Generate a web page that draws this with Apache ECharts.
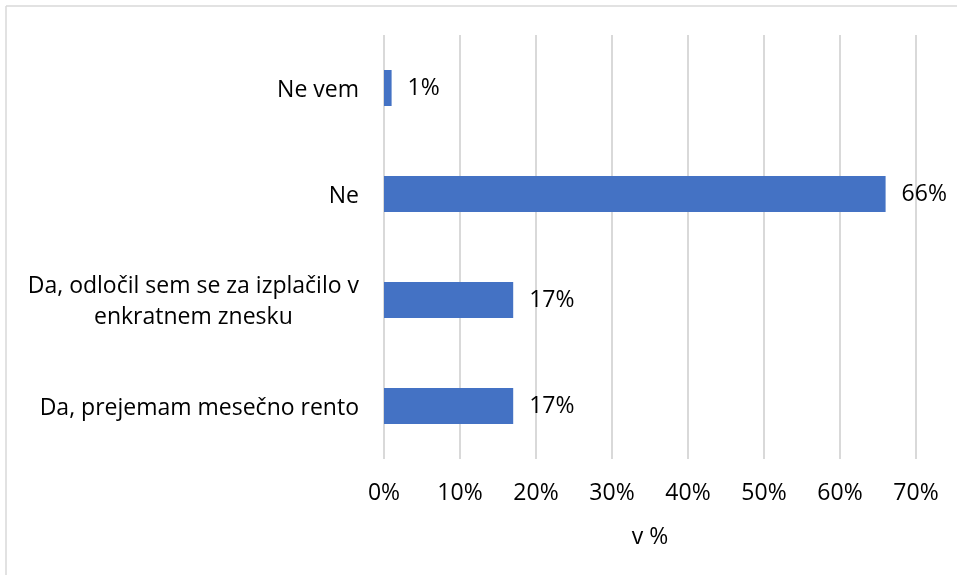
<!DOCTYPE html>
<html>
<head>
<meta charset="utf-8">
<script src="https://cdn.jsdelivr.net/npm/echarts@6/dist/echarts.min.js"></script>
<style>
  html, body { margin: 0; padding: 0; background: #fff; }
  #main { width: 957px; height: 575px; }
</style>
</head>
<body>
<div id="main"></div>
<script>
// categories from bottom to top
var categories = [
  'Da, prejemam mesečno rento',
  'Da, odločil sem se za izplačilo v\nenkratnem znesku',
  'Ne',
  'Ne vem'
];
var values = [17, 17, 66, 1];
var axisName = 'v %';

var chart = echarts.init(document.getElementById('main'));
var font = '"Open Sans", Lato, sans-serif';
var fs = 23;

chart.setOption({
  animation: false,
  textStyle: { fontFamily: font },
  graphic: [
    { type: 'line', shape: { x1: 6, y1: 6, x2: 957, y2: 6 }, style: { stroke: '#d9d9d9', lineWidth: 1.5 } },
    { type: 'line', shape: { x1: 6, y1: 6, x2: 6, y2: 575 }, style: { stroke: '#d9d9d9', lineWidth: 1.5 } }
  ],
  grid: { left: 384, right: 41, top: 35, bottom: 116 },
  xAxis: {
    type: 'value',
    min: 0,
    max: 70,
    interval: 10,
    name: axisName,
    nameLocation: 'middle',
    nameGap: 67,
    nameTextStyle: { fontSize: fs, color: '#000', fontFamily: font },
    axisLine: { show: false },
    axisTick: { show: false },
    axisLabel: { formatter: '{value}%', fontSize: fs, color: '#000', margin: 23, fontFamily: font },
    splitLine: { lineStyle: { color: '#d9d9d9', width: 2 } }
  },
  yAxis: {
    type: 'category',
    data: categories,
    axisLine: { show: false },
    axisTick: { show: false },
    axisLabel: {
      margin: 25,
      align: 'right',
      formatter: function (v) {
        // centre each line inside the right-aligned block
        return v.split('\n').map(function (s) { return '{c|' + s + '}'; }).join('\n');
      },
      rich: {
        c: { fontSize: fs, color: '#000', fontFamily: font, lineHeight: 31, align: 'center', padding: [4, 0, 0, 0] }
      }
    }
  },
  series: [{
    type: 'bar',
    data: values,
    barWidth: 36,
    itemStyle: { color: '#4472C4' },
    label: {
      show: true,
      position: 'right',
      distance: 16,
      formatter: '{c}%',
      fontSize: fs,
      color: '#000',
      fontFamily: font
    }
  }]
});
</script>
</body>
</html>
